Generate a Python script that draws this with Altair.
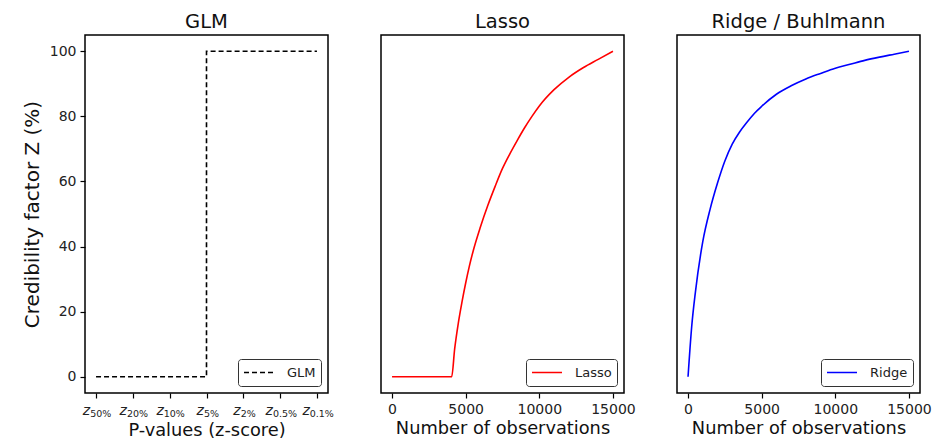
import altair as alt
import pandas as pd

# ---- data ----
glm_ticks = [0, 1, 2, 3, 4, 5, 6]
glm_subs = ["50%", "20%", "10%", "5%", "2%", "0.5%", "0.1%"]
glm_x = [0, 3, 3, 6]
glm_z = [0, 0, 100, 100]

lasso_n = [0, 4050, 4250, 4500, 4750, 5000, 5250, 5500, 6000, 6500, 7000, 7500,
           8000, 8500, 9000, 9500, 10000, 11000, 12000, 13000, 14000, 15000]
lasso_z = [0, 0, 8.5, 16.5, 23, 28.8, 34, 38.5, 46, 52.6, 58.5, 64,
           68.5, 72.6, 76.5, 80, 83.2, 88.2, 92, 95, 97.5, 100]

ridge_n = [0, 250, 500, 1000, 1500, 2000, 2500, 3000, 3500, 4000, 4500, 5000,
           6000, 7000, 8000, 9000, 10000, 11000, 12000, 13000, 14000, 15000]
ridge_z = [0, 15.5, 26, 41.5, 51.5, 59.5, 66.3, 71.5, 75.2, 78.2, 80.9, 83.1,
           86.8, 89.4, 91.5, 93.2, 94.8, 96, 97.2, 98.2, 99.1, 100]

W, H = 243, 358
FONT = "DejaVu Sans"
yscale = alt.Scale(domain=[-5, 105], nice=False, zero=False)
yvals = [0, 20, 40, 60, 80, 100]


def legend(dash=None):
    kw = dict(title=None, orient="bottom-right", offset=7, strokeColor="#333",
              cornerRadius=3, padding=5, fillColor="white", symbolType="stroke",
              symbolSize=900, symbolStrokeWidth=1.6, labelFontSize=13,
              labelFont=FONT, labelColor="#222", labelOffset=12, clipHeight=17)
    if dash:
        kw["symbolDash"] = dash
    return alt.Legend(**kw)


# ---- GLM panel ----
glm_xscale = alt.Scale(domain=[-0.3, 6.3], nice=False, zero=False)
glm_xaxis = alt.Axis(values=glm_ticks, labelExpr="''", title="P-values (z-score)",
                     titlePadding=5)

glm_df = pd.DataFrame({"x": glm_x, "z": glm_z, "k": range(len(glm_x)), "s": "GLM"})
glm_line = alt.Chart(glm_df).mark_line(strokeDash=[5, 3], strokeWidth=1.6).encode(
    x=alt.X("x:Q", scale=glm_xscale, axis=glm_xaxis),
    y=alt.Y("z:Q", scale=yscale, axis=alt.Axis(values=yvals, title="Credibility factor Z (%)",
                                               titleFontSize=20, titlePadding=7)),
    order=alt.Order("k:Q"),
    color=alt.Color("s:N", scale=alt.Scale(domain=["GLM"], range=["black"]),
                    legend=legend([5, 3])),
)

lab_df = pd.DataFrame({"i": glm_ticks, "sub": glm_subs})
lab_base = alt.Chart(lab_df).transform_calculate(
    xs="datum.i + ((8 - (6.6*length(datum.sub) - (indexof(datum.sub, '.') >= 0 ? 4 : 0))) / 2) / 36.8"
)
z_text = lab_base.mark_text(align="right", baseline="alphabetic", fontSize=14,
                            fontStyle="italic", font=FONT, color="#222").encode(
    x=alt.X("xs:Q", scale=glm_xscale, axis=glm_xaxis),
    y=alt.value(H + 22),
    text=alt.value("z"),
)
sub_text = lab_base.mark_text(align="left", baseline="alphabetic", fontSize=9.5,
                              font=FONT, color="#222").encode(
    x=alt.X("xs:Q", scale=glm_xscale, axis=glm_xaxis),
    y=alt.value(H + 24),
    text="sub:N",
)
glm = alt.layer(glm_line, z_text, sub_text).properties(width=W, height=H, title="GLM")


# ---- Lasso / Ridge panels ----
def curve(n, z, name, color, title):
    df = pd.DataFrame({"n": n, "z": z, "s": name})
    return alt.Chart(df).mark_line(strokeWidth=1.6, interpolate="monotone").encode(
        x=alt.X("n:Q", scale=alt.Scale(domain=[-750, 15750], nice=False, zero=False),
                axis=alt.Axis(values=[0, 5000, 10000, 15000], format="d",
                              title="Number of observations")),
        y=alt.Y("z:Q", scale=yscale, axis=None),
        color=alt.Color("s:N", scale=alt.Scale(domain=[name], range=[color]),
                        legend=legend()),
    ).properties(width=W, height=H, title=title)


lasso = curve(lasso_n, lasso_z, "Lasso", "#ff0000", "Lasso")
ridge = curve(ridge_n, ridge_z, "Ridge", "#0000ff", "Ridge / Buhlmann")

chart = alt.hconcat(glm, lasso, ridge, spacing=53, bounds="flush").resolve_scale(
    color="independent", x="independent", y="independent"
).properties(
    padding={"left": 13, "top": 2, "right": 0, "bottom": 0}
).configure_view(
    stroke="black", strokeWidth=1.5
).configure_axis(
    domain=False, tickColor="black", tickSize=5, tickWidth=1.2, labelPadding=4,
    labelFont=FONT, labelFontSize=14, labelColor="#222",
    titleFont=FONT, titleFontSize=17.8, titleFontWeight="normal", titleColor="#111",
    titlePadding=3, grid=False,
).configure_title(
    font=FONT, fontSize=19.5, fontWeight="normal", color="#111", offset=3
)

chart.save("out.html", embed_options={"renderer": "svg", "actions": False})
